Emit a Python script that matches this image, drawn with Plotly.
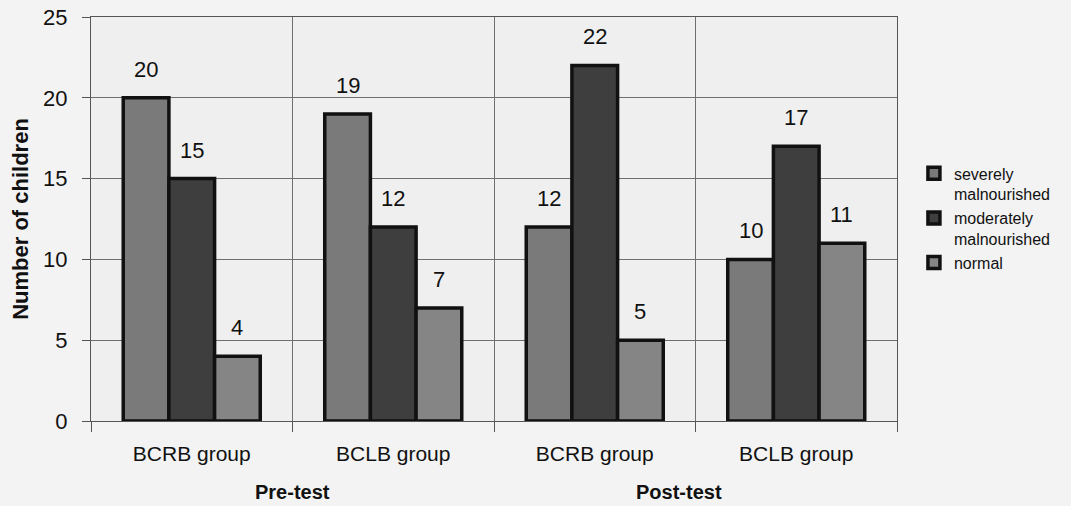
import plotly.graph_objects as go

# ---- data ----
groups = ["BCRB group", "BCLB group", "BCRB group", "BCLB group"]
phase_labels = ["Pre-test", "Post-test"]
series_names = ["severely<br>malnourished", "moderately<br>malnourished", "normal"]
severely = [20, 19, 12, 10]
moderately = [15, 12, 22, 17]
normal = [4, 7, 5, 11]
y_ticks = [0, 5, 10, 15, 20, 25]

# ---- style ----
colors = ["#7a7a7a", "#3e3e3e", "#858585"]
BARGAP = 0.32
FONT = "Liberation Sans, Arial, sans-serif"
TXT = "#111111"

x = list(range(len(groups)))
series = [severely, moderately, normal]

fig = go.Figure()
for name, vals, col in zip(series_names, series, colors):
    fig.add_trace(go.Bar(
        x=x, y=vals, name=name,
        marker=dict(color=col, line=dict(color="#111111", width=3.5)),
    ))

# value labels above bars
bw = (1 - BARGAP) / len(series)
annotations = []
for j, vals in enumerate(series):
    off = (j - (len(series) - 1) / 2) * bw
    for i, v in enumerate(vals):
        annotations.append(dict(
            x=i + off, y=v, xref="x", yref="y", text=str(v), showarrow=False,
            yanchor="bottom", yshift=14, font=dict(size=22, color=TXT, family=FONT),
        ))

# phase labels (Pre-test / Post-test)
phase_pos = [0.5, 2.42]
for lab, px in zip(phase_labels, phase_pos):
    annotations.append(dict(
        x=px, y=-0.176, xref="x", yref="paper", text="<b>%s</b>" % lab,
        showarrow=False, yanchor="middle", font=dict(size=20, color=TXT, family=FONT),
    ))

boundaries = [i - 0.5 for i in range(len(groups) + 1)]

fig.update_layout(
    width=1071, height=506,
    margin=dict(l=91, r=174, t=17, b=85),
    barmode="group", bargap=BARGAP, bargroupgap=0,
    paper_bgcolor="#f3f3f3", plot_bgcolor="#efefef",
    font=dict(family=FONT, color=TXT),
    annotations=annotations,
    legend=dict(
        x=1.021, y=0.655, xanchor="left", yanchor="top", valign="top",
        font=dict(size=16, color=TXT, family=FONT), bgcolor="rgba(0,0,0,0)",
        tracegroupgap=0,
    ),
    showlegend=True,
)

fig.update_xaxes(
    range=[-0.5, len(groups) - 0.5], automargin=False,
    tickmode="array", tickvals=x, ticktext=groups, ticks="", showgrid=False,
    tickfont=dict(size=21, color=TXT, family=FONT), ticklabelstandoff=14,
    minor=dict(tickmode="array", tickvals=boundaries, ticks="outside", ticklen=10,
               tickcolor="#555555", showgrid=True, gridcolor="#6f6f6f", gridwidth=1),
    showline=True, linecolor="#555555", linewidth=1, mirror=True,
    zeroline=False,
)
fig.update_yaxes(
    range=[0, 25], tickmode="array", tickvals=y_ticks, automargin=False,
    ticks="outside", ticklen=8, tickcolor="#555555",
    showgrid=True, gridcolor="#6f6f6f", gridwidth=1,
    tickfont=dict(size=22, color=TXT, family=FONT), ticklabelstandoff=10,
    showline=True, linecolor="#555555", linewidth=1, mirror=True,
    zeroline=False,
    title=dict(text="<b>Number of children</b>", font=dict(size=22, color=TXT, family=FONT),
               standoff=8),
)

fig.write_html("out.html", config={"displayModeBar": False},
               post_script="document.body.style.margin='0';")
